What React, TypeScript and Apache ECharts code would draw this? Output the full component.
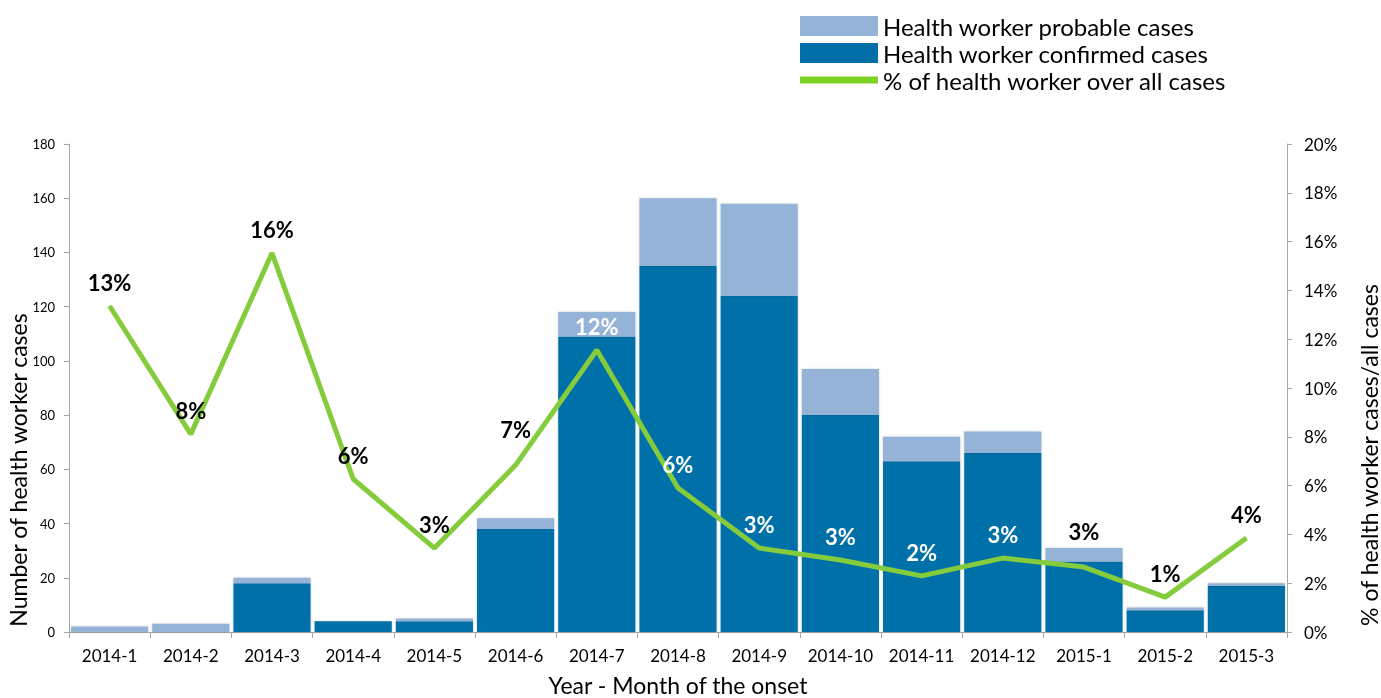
import React, { useEffect, useRef } from "react";
import * as echarts from "echarts";

const months = ["2014-1","2014-2","2014-3","2014-4","2014-5","2014-6","2014-7","2014-8","2014-9","2014-10","2014-11","2014-12","2015-1","2015-2","2015-3"];
const confirmed = [0, 0, 18, 4, 4, 38, 109, 135, 124, 80, 63, 66, 26, 8, 17];
const probable = [2, 3, 2, 0, 1, 4, 9, 25, 34, 17, 9, 8, 5, 1, 1];
const pctHealthWorker = [13.36, 8.11, 15.53, 6.27, 3.44, 6.84, 11.56, 5.9, 3.44, 2.95, 2.3, 3.03, 2.66, 1.43, 3.85];
const whiteLabelIdx = [6, 7, 8, 9, 10, 11];

const FONT = "Lato, 'Open Sans', sans-serif";

export default function App() {
  const ref = useRef<HTMLDivElement>(null);
  useEffect(() => {
    const chart = echarts.init(ref.current!, null, { renderer: "svg" });
    const lineData = pctHealthWorker.map((v, i) => ({
      value: v,
      label: {
        color: whiteLabelIdx.includes(i) ? "#ffffff" : "#000000",
        distance: i === 5 || i === 12 ? 24 : 12,
      },
    }));
    chart.setOption({
      animation: false,
      textStyle: { fontFamily: FONT },
      legend: {
        orient: "vertical",
        left: 795,
        top: 9,
        itemWidth: 78,
        itemHeight: 20,
        itemGap: 3,
        symbolKeepAspect: true,
        textStyle: { fontSize: 24, color: "#000", fontFamily: FONT },
        data: [
          { name: "Health worker probable cases", icon: "rect" },
          { name: "Health worker confirmed cases", icon: "rect" },
          {
            name: "% of health worker over all cases",
            icon: "path://M0,0L78,0L78,7L0,7Z",
            itemStyle: { color: "#7ed321" },
          },
        ],
      },
      grid: { left: 69, right: 94, top: 144, bottom: 66, containLabel: false, outerBoundsMode: "none" },
      xAxis: {
        type: "category",
        data: months,
        name: "Year - Month of the onset",
        nameLocation: "middle",
        nameGap: 41,
        nameMoveOverlap: false,
        nameTextStyle: { fontSize: 23, color: "#000", fontFamily: FONT },
        axisLine: { lineStyle: { color: "#a6a6a6", width: 1 } },
        axisTick: { show: true, length: 6, lineStyle: { color: "#a6a6a6" } },
        axisLabel: { fontSize: 17, color: "#000", margin: 15, interval: 0, fontFamily: FONT },
      },
      yAxis: [
        {
          type: "value",
          min: 0,
          max: 180,
          interval: 20,
          name: "Number of health worker cases",
          nameLocation: "middle",
          nameRotate: 90,
          nameGap: 40,
          nameMoveOverlap: false,
          nameTextStyle: { fontSize: 23, color: "#000", fontFamily: FONT, padding: [0, 164, 0, 0] },
          axisLine: { show: true, lineStyle: { color: "#a6a6a6" } },
          axisTick: { show: true, length: 5, lineStyle: { color: "#a6a6a6" } },
          axisLabel: { fontSize: 13, color: "#000", margin: 14, fontFamily: FONT },
          splitLine: { show: false },
        },
        {
          type: "value",
          min: 0,
          max: 20,
          interval: 2,
          position: "right",
          name: "% of health worker cases/all cases",
          nameLocation: "middle",
          nameRotate: 90,
          nameGap: 70,
          nameMoveOverlap: false,
          nameTextStyle: { fontSize: 23, color: "#000", fontFamily: FONT, padding: [0, 134, 0, 0] },
          axisLine: { show: true, lineStyle: { color: "#a6a6a6" } },
          axisTick: { show: true, length: 5, lineStyle: { color: "#a6a6a6" } },
          axisLabel: { fontSize: 17, color: "#000", margin: 17, formatter: "{value}%", fontFamily: FONT },
          splitLine: { show: false },
        },
      ],
      series: [
        {
          name: "Health worker confirmed cases",
          type: "bar",
          stack: "hw",
          data: confirmed,
          barCategoryGap: "5%",
          itemStyle: { color: "#006fa8", shadowColor: "rgba(0,0,0,0.2)", shadowBlur: 2 },
        },
        {
          name: "Health worker probable cases",
          type: "bar",
          stack: "hw",
          data: probable,
          barCategoryGap: "5%",
          itemStyle: { color: "#95b3d7", shadowColor: "rgba(0,0,0,0.2)", shadowBlur: 2 },
        },
        {
          name: "% of health worker over all cases",
          type: "line",
          yAxisIndex: 1,
          data: lineData,
          symbol: "circle",
          symbolSize: 1,
          showSymbol: true,
          z: 5,
          itemStyle: { color: "#84cc3c" },
          lineStyle: { color: "#84cc3c", width: 5 },
          label: {
            show: true,
            position: "top",
            fontSize: 22,
            fontWeight: "bold",
            fontFamily: FONT,
            formatter: (p: any) => Math.round(p.value) + "%",
          },
        },
      ],
    });
    return () => chart.dispose();
  }, []);
  return (
    <div
      ref={ref}
      style={{ position: "fixed", left: 0, top: 0, width: 1381, height: 698 }}
    />
  );
}
